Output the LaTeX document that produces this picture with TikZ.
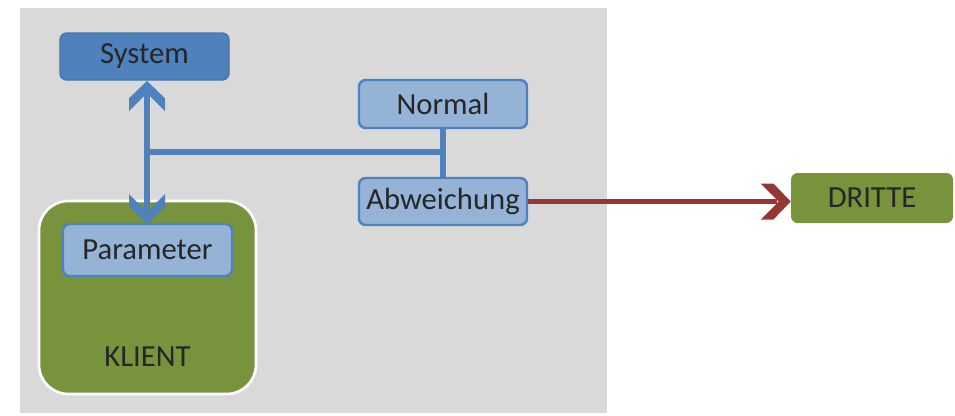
\documentclass[tikz,border=0pt]{standalone}
\usepackage{fontspec}
\setmainfont{Carlito}
\usepackage{xcolor}
\usetikzlibrary{positioning,arrows.meta,calc}
\definecolor{areagray}{HTML}{D9D9D9}
\definecolor{darkblue}{HTML}{4F81BD}
\definecolor{lightblue}{HTML}{95B3D7}
\definecolor{olive}{HTML}{77933C}
\definecolor{darkred}{HTML}{953735}
\definecolor{txt}{HTML}{262626}
% chevron shaped arrow head with flat wing ends
\pgfdeclarearrow{
  name=Chevron,
  setup code={
    \pgfarrowssettipend{0pt}
    \pgfarrowssetlineend{-10pt}
    \pgfarrowssetvisualbackend{-22.5pt}
    \pgfarrowssetbackend{-22.5pt}
  },
  drawing code={
    \pgfpathmoveto{\pgfpoint{0pt}{0pt}}
    \pgfpathlineto{\pgfpoint{-13pt}{13.5pt}}
    \pgfpathlineto{\pgfpoint{-22.5pt}{13.5pt}}
    \pgfpathlineto{\pgfpoint{-9pt}{0pt}}
    \pgfpathlineto{\pgfpoint{-22.5pt}{-13.5pt}}
    \pgfpathlineto{\pgfpoint{-13pt}{-13.5pt}}
    \pgfpathclose
    \pgfusepathqfill
  }
}
\tikzset{
  box/.style={draw=darkblue, line width=1.8pt, fill=lightblue, rounded corners=5pt,
    text=txt, font=\fontsize{23}{27}\selectfont, inner sep=0pt},
  greenbox/.style={fill=olive, rounded corners=5pt, text=txt,
    font=\fontsize{23}{27}\selectfont, inner sep=0pt},
  link/.style={draw=darkblue, line width=3.8pt}
}
\begin{document}
\begin{tikzpicture}[x=0.75pt, y=-0.75pt]
    \useasboundingbox (0,0) rectangle (955,415);

    % Grey area
    \fill[areagray] (20,8) rectangle (607,413);

    % Client with its parameter box
    \node[greenbox, draw=white, line width=2pt, rounded corners=22pt,
      minimum width=162.75pt, minimum height=144.75pt] (klient) at (147.5,297.5) {};
    \node[txt, font=\fontsize{23}{27}\selectfont] (klientlabel) at (147.5,357) {KLIENT};
    \node[box, minimum width=126.75pt, minimum height=39pt] (parameter) at (147.5,250) {Parameter};

    % System
    \node[box, fill=darkblue, draw=darkblue!90!black, line width=1pt,
      minimum width=126.75pt, minimum height=35.25pt] (system) at (144.5,56.5) {System};

    % Normal / Abweichung
    \node[box, minimum width=126pt, minimum height=36pt] (normal) at (443,104) {Normal};
    \node[box, minimum width=126pt, minimum height=35.25pt] (abweichung) at (443,201.5) {Abweichung};

    % Third party
    \node[greenbox, minimum width=121.5pt, minimum height=37.5pt] (dritte) at (872,198) {DRITTE};

    % Connectors
    \coordinate (systop) at (147,81);
    \coordinate (parbot) at (147,224);
    \coordinate (branch) at (147,152);
    \draw[link] (normal.south) -- (abweichung.north);
    \draw[link] (branch) -- (branch -| normal.south);
    \draw[link, Chevron-Chevron] (systop) -- (parbot);
    \draw[draw=darkred, line width=3.8pt, -Chevron] (abweichung.east) -- (abweichung.east -| dritte.west);
\end{tikzpicture}
\end{document}
